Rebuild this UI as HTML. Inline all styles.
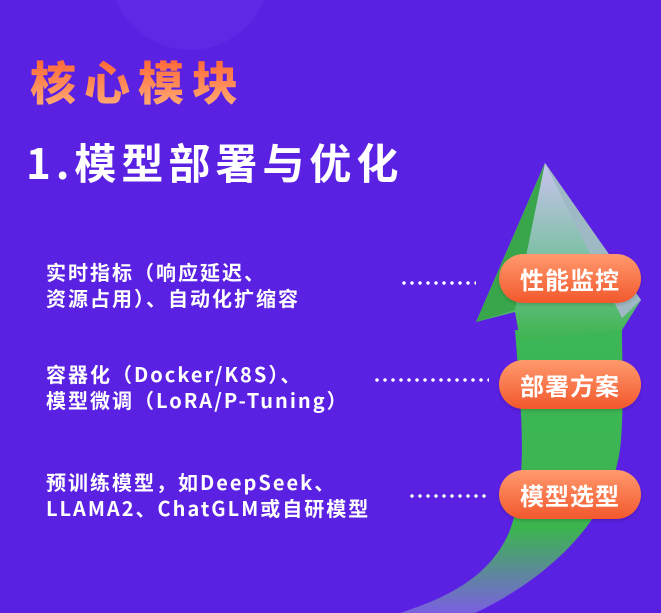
<!DOCTYPE html>
<html><head><meta charset="utf-8"><style>
html,body{margin:0;padding:0}
body{width:661px;height:613px;overflow:hidden;position:relative;background:#5a21e2;font-family:"Noto Sans CJK SC","Liberation Sans",sans-serif;}
.abs{position:absolute}
.t1{left:30px;top:50px;font-size:46px;font-weight:900;letter-spacing:8px;color:#ff8a5a;background:linear-gradient(#ff5a2c,#ffb27a);-webkit-background-clip:text;background-clip:text;-webkit-text-fill-color:transparent;line-height:62px}
.t2{left:26px;top:132px;font-size:42px;font-weight:700;color:#fff;line-height:60px;letter-spacing:5px}
.d{left:46px;font-size:20px;font-weight:700;color:#fff;line-height:26px;white-space:nowrap;letter-spacing:2px}
.pill{left:499px;width:142px;height:49px;border-radius:25px;background:linear-gradient(#ff9a6e,#f2582c);color:#fff;font-size:24px;font-weight:700;text-align:center;line-height:49px;letter-spacing:1px;box-shadow:0 2px 3px rgba(0,0,0,.15)}
.dots{height:4px;background:radial-gradient(circle,#fff 1.5px,transparent 2px) 0 0/8px 4px repeat-x}
</style></head><body>
<svg class="abs" style="left:0;top:0" width="661" height="613">
<defs>
<linearGradient id="g1" x1="0" y1="0" x2="0" y2="1"><stop offset="0" stop-color="#c9c3ef"/><stop offset="0.6" stop-color="#72c09a"/><stop offset="1" stop-color="#3fb54f"/></linearGradient>
<linearGradient id="g2" x1="0" y1="0" x2="0" y2="1"><stop offset="0" stop-color="#3cb656"/><stop offset="0.7" stop-color="#3cb54f"/><stop offset="1" stop-color="#7a60e0"/></linearGradient>
</defs>
<circle cx="190" cy="-30" r="80" fill="#6330e6" opacity=".5"/>
<path d="M515,330 C522,420 528,480 510,530 C490,580 440,600 400,613 L475,613 C545,580 615,520 621,440 C624,400 622,360 622,330 Z" fill="url(#g2)"/>
<path d="M545,163 L476,322 L515,312 L520,340 L622,330 L641,300 Z" fill="url(#g1)"/>
<path d="M545,163 L476,322 L515,310 Z" fill="#3aa64c"/>
<path d="M545,163 L641,300 L622,318 Z" fill="#9fb9c4"/>
</svg>
<div class="abs t1">核心模块</div>
<div class="abs t2">1.模型部署与优化</div>
<div class="abs d" style="top:259px">实时指标（响应延迟、<br>资源占用）、自动化扩缩容</div>
<div class="abs d" style="top:361px">容器化（Docker/K8S）、<br>模型微调（LoRA/P-Tuning）</div>
<div class="abs d" style="top:469px">预训练模型，如DeepSeek、<br>LLAMA2、ChatGLM或自研模型</div>
<div class="abs dots" style="left:400px;top:281px;width:76px"></div>
<div class="abs dots" style="left:373px;top:378px;width:116px"></div>
<div class="abs dots" style="left:408px;top:494px;width:80px"></div>
<div class="abs pill" style="top:254px">性能监控</div>
<div class="abs pill" style="top:360px">部署方案</div>
<div class="abs pill" style="top:470px">模型选型</div>
</body></html>
